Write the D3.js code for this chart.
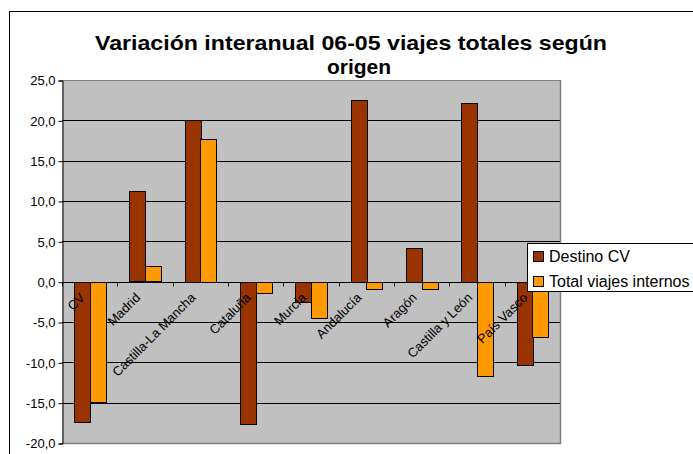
<!DOCTYPE html>
<html><head><meta charset="utf-8">
<script src="https://cdn.jsdelivr.net/npm/d3@7"></script>
<style>body{margin:0;background:#fff}svg{display:block;font-family:Arial,"Liberation Sans",sans-serif}</style>
</head><body>
<script>
const categories = ["CV","Madrid","Castilla-La Mancha","Cataluña","Murcia","Andalucía","Aragón","Castilla y León","País Vasco"];
const seriesNames = ["Destino CV","Total viajes internos"];
const destinoCV = [-17.3, 11.2, 20.1, -17.6, -2.5, 22.5, 4.2, 22.2, -10.3];
const totalInternos = [-14.9, 1.9, 17.7, -1.4, -4.5, -0.9, -0.9, -11.6, -6.8];
const yTicks = [-20, -15, -10, -5, 0, 5, 10, 15, 20, 25];
const colors = ["#993300", "#FF9900"];
const titleLines = ["Variación interanual 06-05 viajes totales según", "origen"];

const W = 693, H = 454;
const svg = d3.select("body").append("svg").attr("width", W).attr("height", H);

// outer chart border
svg.append("rect").attr("x", 9.5).attr("y", 11.5).attr("width", 720).attr("height", 500)
  .attr("fill", "#fff").attr("stroke", "#000").attr("stroke-width", 1);

const L = 62, R = 560, T = 80, B = 443;
const y = d3.scaleLinear().domain([-20, 25]).range([B, T]);
const x = d3.scaleBand().domain(categories).range([L, R]).paddingInner(1.5/3.5).paddingOuter(0.75/3.5);
const xs = d3.scaleBand().domain(seriesNames).range([0, x.bandwidth()]);
const step = x.step();

// plot area
svg.append("rect").attr("x", L).attr("y", T).attr("width", R - L).attr("height", B - T).attr("fill", "#C0C0C0");
// gridlines
svg.append("g").selectAll("line").data(yTicks).join("line")
  .attr("x1", L).attr("x2", R).attr("y1", d => Math.round(y(d)) + 0.5).attr("y2", d => Math.round(y(d)) + 0.5)
  .attr("stroke", d => d === 25 ? "#808080" : "#000").attr("stroke-width", 1);
// plot border right/bottom
svg.append("path").attr("d", `M${R+0.5},${T}V${B+0.5}H${L}`).attr("fill", "none").attr("stroke", "#808080").attr("stroke-width", 1.5);

// bars
const data = [destinoCV, totalInternos];
seriesNames.forEach((s, si) => {
  svg.append("g").selectAll("rect").data(categories).join("rect")
    .attr("x", c => Math.round(x(c) + xs(s)) + 0.5)
    .attr("width", Math.round(xs.bandwidth()))
    .attr("y", (c, i) => Math.round(y(Math.max(0, data[si][i]))) + 0.5)
    .attr("height", (c, i) => Math.round(Math.abs(y(data[si][i]) - y(0))))
    .attr("fill", colors[si]).attr("stroke", "#000").attr("stroke-width", 1);
});

// y axis
const yAxis = d3.axisLeft(y).tickValues(yTicks).tickSize(4).tickFormat(d => d3.format(".1f")(d).replace(".", ",").replace("−", "-"));
const gy = svg.append("g").attr("transform", `translate(${L + 0.5},0.5)`).call(yAxis);
gy.select(".domain").attr("stroke", "#000");
gy.selectAll("text").attr("font-size", 13).attr("fill", "#000").attr("font-family", "Arial, 'Liberation Sans', sans-serif").attr("x", -7);

// x axis at zero
const y0 = Math.round(y(0)) + 0.5;
svg.append("line").attr("x1", L).attr("x2", R).attr("y1", y0).attr("y2", y0).attr("stroke", "#000");
svg.append("g").selectAll("line").data(categories.map((c, i) => i).concat([categories.length]))
  .join("line")
  .attr("x1", i => Math.round(L + i * step) + 0.5).attr("x2", i => Math.round(L + i * step) + 0.5)
  .attr("y1", y0).attr("y2", y0 + 4).attr("stroke", "#000");
svg.append("g").selectAll("text").data(categories).join("text")
  .attr("transform", c => `translate(${x(c) + x.bandwidth() / 2 - 4},${y0 + 16}) rotate(-45)`)
  .attr("text-anchor", "end").attr("font-size", 13).attr("fill", "#000").text(c => c);

// title
svg.append("text").attr("x", 95).attr("y", 50)
  .attr("font-size", 21).attr("font-weight", "bold").attr("fill", "#000")
  .attr("textLength", 512).attr("lengthAdjust", "spacingAndGlyphs").text(titleLines[0]);
svg.append("text").attr("x", 359).attr("y", 74).attr("text-anchor", "middle")
  .attr("font-size", 21).attr("font-weight", "bold").attr("fill", "#000").text(titleLines[1]);

// legend
const lg = svg.append("g");
lg.append("rect").attr("x", 527.5).attr("y", 243.5).attr("width", 200).attr("height", 48)
  .attr("fill", "#fff").attr("stroke", "#000");
seriesNames.forEach((s, i) => {
  lg.append("rect").attr("x", 533.5).attr("y", 251.5 + i * 25).attr("width", 10).attr("height", 10)
    .attr("fill", colors[i]).attr("stroke", "#000");
  lg.append("text").attr("x", 549).attr("y", 262 + i * 25).attr("font-size", 16).attr("fill", "#000").text(s);
});
</script>
</body></html>
